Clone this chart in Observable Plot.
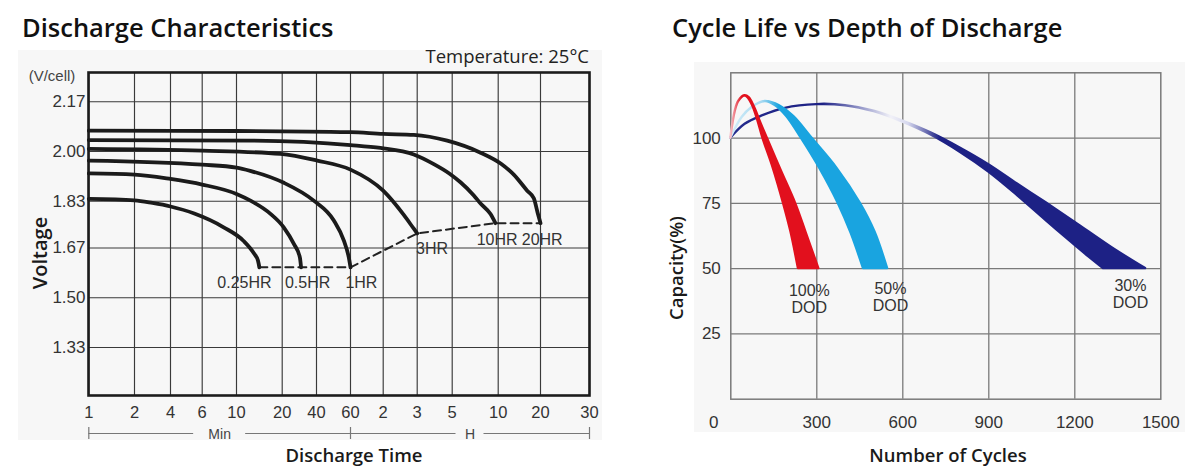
<!DOCTYPE html>
<html>
<head>
<meta charset="utf-8">
<script src="https://cdn.jsdelivr.net/npm/d3@7"></script>
<script src="https://cdn.jsdelivr.net/npm/@observablehq/plot@0.6"></script>
<style>
  html, body { margin: 0; padding: 0; background: #fff; }
  body { position: relative; width: 1200px; height: 476px; overflow: hidden; font-family: "Liberation Sans", Arial, sans-serif; }
  .panel { position: absolute; background: #f7f7f7; }
  .title { position: absolute; font-family: "Open Sans", sans-serif; font-weight: 600; font-size: 25.5px; color: #111; white-space: nowrap; line-height: 1; }
  .lbl { position: absolute; white-space: nowrap; line-height: 1; transform: translate(-50%, -50%); }
  .axis-title { font-family: "Open Sans", sans-serif; font-weight: 600; font-size: 18.5px; color: #1a1a1a; }
  .rot { transform: translate(-50%, -50%) rotate(-90deg); }
  .chart { position: absolute; top: 40px; }
</style>
</head>
<body>
<div class="panel" style="left:18px;top:50px;width:584px;height:390px"></div>
<div class="panel" style="left:694px;top:62px;width:491px;height:370px"></div>

<div class="title" style="left:22px;top:15px">Discharge Characteristics</div>
<div class="title" style="left:672px;top:15px">Cycle Life vs Depth of Discharge</div>

<div id="left" class="chart" style="left:0"></div>
<div id="right" class="chart" style="left:600px"></div>

<div class="lbl" style="left:52px;top:75px;font-size:15px;color:#444">(V/cell)</div>
<div style="position:absolute;right:611px;top:47px;font-family:'Open Sans',sans-serif;font-size:18.5px;color:#222;white-space:nowrap;line-height:1">Temperature: 25°C</div>
<div class="lbl axis-title rot" style="left:40px;top:253px;font-size:20px">Voltage</div>
<div class="lbl axis-title" style="left:354px;top:455px">Discharge Time</div>
<div class="lbl axis-title rot" style="left:676px;top:268px">Capacity(%)</div>
<div class="lbl axis-title" style="left:948px;top:455px">Number of Cycles</div>

<script>
// ---------- Discharge characteristics ----------
// Time axis, in minutes, with the labels printed under each grid line
const timeTicks = [1, 2, 4, 6, 10, 20, 40, 60, 120, 180, 300, 600, 1200, 1800];
const timeLabels = ["1", "2", "4", "6", "10", "20", "40", "60", "2", "3", "5", "10", "20", "30"];
const voltTicks = [2.17, 2.00, 1.83, 1.67, 1.50, 1.33];

// Discharge curves per rate: [minutes, volts per cell]
const curve20HR = [[1, 2.071], [10, 2.070], [60, 2.066], [120, 2.060], [174, 2.057], [283, 2.037], [485, 1.996], [640, 1.958], [821, 1.921], [1011, 1.866], [1105, 1.840], [1160, 1.790], [1200, 1.755]];
const curve10HR = [[1, 2.039], [13, 2.037], [60, 2.022], [115, 2.012], [174, 1.990], [237, 1.957], [290, 1.925], [354, 1.895], [441, 1.850], [485, 1.822], [550, 1.786], [582, 1.755]];
const curve3HR = [[1, 2.009], [6, 2.003], [19.6, 1.992], [40.4, 1.969], [60, 1.938], [120, 1.866], [156, 1.784], [174, 1.736], [180, 1.720]];
const curve1HR = [[1, 1.969], [6, 1.955], [10, 1.945], [13, 1.934], [21, 1.893], [38.4, 1.832], [50.2, 1.764], [56.1, 1.695], [59, 1.638], [60, 1.604]];
const curve05HR = [[1, 1.925], [2, 1.921], [4, 1.906], [6, 1.887], [10, 1.855], [13.06, 1.832], [17.44, 1.787], [20.9, 1.741], [26.8, 1.684], [30.3, 1.638], [31, 1.604]];
const curve025HR = [[1, 1.838], [2, 1.833], [3, 1.824], [4, 1.812], [5.5, 1.788], [8.5, 1.741], [11.5, 1.695], [13.8, 1.652], [14.7, 1.627], [15, 1.604]];

const rateNames = ["20HR", "10HR", "3HR", "1HR", "0.5HR", "0.25HR"];
const rateCurves = [curve20HR, curve10HR, curve3HR, curve1HR, curve05HR, curve025HR];
const rateLabelTime = [1221, 593, 231, 80, 34.8, 11.75];
const rateLabelVolt = [1.699, 1.699, 1.667, 1.55, 1.55, 1.55];

const unitNames = ["Min", "H"];
const unitBounds = [[1, 60], [60, 1800]];

// ---------- Cycle life ----------
const cycleTicks = [300, 600, 900, 1200, 1500];
const capacityTicks = [25, 50, 75, 100];

// Each band is traced by an inner and an outer edge (same number of points): [cycles, capacity %]
const dod100Inner = [[0, 100], [16, 110.5], [28, 114.1], [49, 116.2], [62, 115.2], [78, 112], [95, 106.5], [112, 100], [148, 88.5], [184, 75], [210, 64], [236, 50]];
const dod100Outer = [[0, 100], [16, 110.5], [28, 114.1], [49, 116.2], [64, 115.5], [82, 112], [104, 106], [127, 100], [176, 87.5], [226, 75], [262, 64], [307, 50]];
const dod50Inner = [[0, 100], [40, 108], [75, 111.8], [100, 113.4], [121, 114], [155, 112.5], [195, 108.3], [246, 100], [310, 88.5], [375, 75], [420, 63.5], [463, 50]];
const dod50Outer = [[0, 100], [40, 108], [75, 111.8], [100, 113.4], [121, 114], [170, 112.4], [220, 108.2], [283, 100], [370, 88.5], [452, 75], [503, 64], [547, 50]];
const dod30Inner = [[0, 100], [50, 105.3], [110, 108.5], [190, 111.4], [300, 112.8], [400, 112.4], [500, 110.1], [600, 106.1], [700, 101.1], [800, 94.6], [900, 87.0], [1000, 78.0], [1100, 68.4], [1200, 59.0], [1250, 54.4], [1300, 50]];
const dod30Outer = [[0, 100], [50, 105.3], [110, 108.5], [190, 111.4], [300, 112.8], [400, 112.4], [500, 110.3], [600, 106.5], [700, 101.9], [800, 96.2], [900, 89.8], [1000, 82.4], [1100, 75.2], [1200, 67.8], [1330, 58.0], [1447, 50]];

const dodNames = ["30%", "50%", "100%"];
const dodInner = [dod30Inner, dod50Inner, dod100Inner];
const dodOuter = [dod30Outer, dod50Outer, dod100Outer];
const dodLabelCycles = [1394, 557, 274];
const dodLabelCapacity = [40.4, 39.2, 38.4];

// Colour ramps along the cycle axis: [cycles, colour]
const dodRamps = [
  [[0, "#242b8c"], [320, "#1d2185"], [460, "#9a9dcc"], [560, "#f1f1f8"], [620, "#d6d8ee"], [730, "#1d2185"]],
  [[0, "#d4edf8"], [110, "#a6d9f1"], [170, "#19a4e0"], [600, "#19a4e0"]],
  [[0, "#f6c3ca"], [40, "#e2101d"], [320, "#e2101d"]]
];

// ---------- left chart ----------
const tableRates = rateNames.flatMap((rate, k) => rateCurves[k].map(([t, v]) => ({rate, t, v})));
const cutoff = rateCurves.map((c, k) => ({rate: rateNames[k], t: c[c.length - 1][0], v: c[c.length - 1][1]}))
  .sort((a, b) => a.t - b.t);
const rateLabels = rateNames.map((rate, k) => ({rate, t: rateLabelTime[k], v: rateLabelVolt[k]}));

const xTimeOptions = {
  type: "linear",
  domain: timeTicks,
  // the printed grid is unevenly spaced
  range: [88.3, 134, 170, 201.7, 236, 281.7, 316, 350, 382.7, 416.7, 451.7, 497.7, 540, 589]
};
const xTime = Plot.scale({x: xTimeOptions});
const yLow = 1.166;

// "Min" / "H" brackets under the time axis: the line breaks around its label
const units = unitNames.map((unit, k) => {
  const [from, to] = unitBounds[k];
  const mid = xTime.invert((xTime.apply(from) + xTime.apply(to)) / 2);
  return {unit, from, to, mid};
});
const unitSegments = units.flatMap(u => {
  const m = xTime.apply(u.mid);
  const half = 8 + 6 * u.unit.length;
  return [
    {x1: u.from, x2: xTime.invert(m - half)},
    {x1: xTime.invert(m + half), x2: u.to}
  ];
});
const unitEdges = [1, 60, 1800];

const left = Plot.plot({
  width: 600,
  height: 436,
  marginLeft: 88,
  marginRight: 11,
  marginTop: 32,
  marginBottom: 81,
  x: {...xTimeOptions, axis: null},
  y: {domain: [yLow, 2.27], axis: null},
  style: {background: "transparent", fontFamily: "'Liberation Sans', Arial, sans-serif", fontSize: "16px", color: "#333", overflow: "visible"},
  marks: [
    Plot.ruleX(timeTicks, {x: d => d, stroke: "#3a3a3a", strokeWidth: 1.15}),
    Plot.ruleY(voltTicks, {y: d => d, stroke: "#3a3a3a", strokeWidth: 1.15}),
    Plot.frame({stroke: "#1c1c1c", strokeWidth: 2.6}),
    Plot.line(cutoff, {x: "t", y: "v", stroke: "#222", strokeWidth: 2, strokeDasharray: "8,5"}),
    Plot.line(tableRates, {x: "t", y: "v", z: "rate", curve: "monotone-x", stroke: "#1b1b1b", strokeWidth: 3.8}),
    Plot.text(rateLabels, {x: "t", y: "v", text: "rate", fontSize: 16, fill: "#333"}),
    Plot.text(timeTicks, {x: d => d, frameAnchor: "bottom", dy: 22, text: (d, i) => timeLabels[i], fontSize: 16.5, fill: "#333"}),
    Plot.text(voltTicks, {y: d => d, frameAnchor: "left", dx: -3, textAnchor: "end", text: d => d.toFixed(2), fontSize: 17, fill: "#333"}),
    Plot.ruleY(unitSegments, {y: () => yLow, x1: "x1", x2: "x2", dy: 38, stroke: "#777", strokeWidth: 1.2}),
    Plot.ruleX(unitEdges, {x: d => d, y1: () => yLow, y2: () => yLow, dy: 38, insetTop: -6, insetBottom: -6, stroke: "#777", strokeWidth: 1.2}),
    Plot.text(units, {x: "mid", y: () => yLow, dy: 39, text: "unit", fontSize: 14, fill: "#444"})
  ]
});
document.getElementById("left").append(left);

// ---------- right chart ----------
const bands = dodNames.flatMap((dod, k) => dodInner[k].map(([c1, p1], i) => ({
  dod, c1, p1, c2: dodOuter[k][i][0], p2: dodOuter[k][i][1]
})));
const dodLabels = dodNames.map((dod, k) => ({text: `${dod}\nDOD`, c: dodLabelCycles[k], p: dodLabelCapacity[k]}));
const rampId = k => `dod-ramp-${k}`;

function rampDefs(index, scales) {
  const g = d3.create("svg:g");
  const defs = g.append("defs");
  dodRamps.forEach((ramp, k) => {
    const x0 = scales.x(ramp[0][0]);
    const x1 = scales.x(ramp[ramp.length - 1][0]);
    const lg = defs.append("linearGradient")
      .attr("id", rampId(k))
      .attr("gradientUnits", "userSpaceOnUse")
      .attr("x1", x0).attr("x2", x1).attr("y1", 0).attr("y2", 0);
    ramp.forEach(([c, color]) => {
      lg.append("stop").attr("offset", (scales.x(c) - x0) / (x1 - x0)).attr("stop-color", color);
    });
  });
  return g.node();
}

const right = Plot.plot({
  width: 600,
  height: 436,
  marginLeft: 130.3,
  marginRight: 39.7,
  marginTop: 32.3,
  marginBottom: 77.3,
  x: {domain: [0, 1500], axis: null},
  y: {domain: [0, 125], axis: null},
  style: {background: "transparent", fontFamily: "'Liberation Sans', Arial, sans-serif", fontSize: "17px", color: "#333", overflow: "visible"},
  marks: [
    rampDefs,
    Plot.ruleX(cycleTicks.slice(0, -1), {x: d => d, stroke: "#7a7a7a", strokeWidth: 1.3}),
    Plot.ruleY(capacityTicks, {y: d => d, stroke: "#7a7a7a", strokeWidth: 1.3}),
    Plot.frame({stroke: "#7a7a7a", strokeWidth: 1.5}),
    ...dodNames.map((dod, k) => Plot.area(bands.filter(d => d.dod === dod), {
      x1: "c1", y1: "p1", x2: "c2", y2: "p2", curve: "catmull-rom",
      fill: `url(#${rampId(k)})`, stroke: `url(#${rampId(k)})`, strokeWidth: 2.4
    })),
    Plot.text(dodLabels, {x: "c", y: "p", text: "text", lineHeight: 1.1, fontSize: 16, fill: "#333"}),
    Plot.text(cycleTicks, {x: d => d, frameAnchor: "bottom", dy: 29, text: d => String(d), fill: "#333"}),
    Plot.text([0], {x: d => d, frameAnchor: "bottom", dy: 29, dx: -17, text: d => String(d), fill: "#333"}),
    Plot.text(capacityTicks, {y: d => d, frameAnchor: "left", dx: -10, textAnchor: "end", text: d => String(d), fill: "#333"})
  ]
});
document.getElementById("right").append(right);
</script>
</body>
</html>
